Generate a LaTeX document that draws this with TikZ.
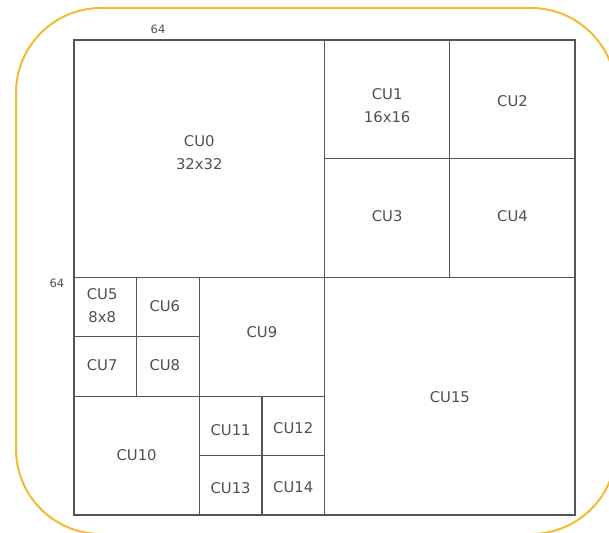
\documentclass[tikz,border=0pt]{standalone}
\usepackage{fontspec}
\setmainfont{DejaVu Sans}
\usepackage{tikz}
\usepackage{xcolor}
\definecolor{cuorange}{RGB}{246, 185, 51}
\definecolor{cugray}{RGB}{85, 85, 85}
\definecolor{cutext}{RGB}{80, 80, 80}
\tikzset{
    cuframe/.style={draw=cuorange, line width=2pt, rounded corners=85pt},
    cuedge/.style={draw=cugray, line width=1.2pt},
    culabel/.style={align=center, text=cutext, font=\fontsize{14.8}{23}\selectfont},
    dimlabel/.style={text=cutext, font=\fontsize{11.5}{13}\selectfont}
}
\begin{document}
\begin{tikzpicture}[x=1pt, y=-1pt]
    \useasboundingbox (0,0) rectangle (609,532);
    \clip (0,0) rectangle (609,532);
    \draw[cuframe] (16,8) rectangle (616,534);
    \node[dimlabel] (dimtop) at (158,29) {64};
    \node[dimlabel] (dimleft) at (57,283) {64};
    \begin{scope}[shift={(74,40)}, x=7.83pt, y=-7.42pt]
        % quad-tree split of the 64x64 block
        \draw[cuedge] (0,0) rectangle (32,32);
        \draw[cuedge] (32,0) rectangle (48,16);
        \draw[cuedge] (48,0) rectangle (64,16);
        \draw[cuedge] (32,16) rectangle (48,32);
        \draw[cuedge] (48,16) rectangle (64,32);
        \draw[cuedge] (0,32) rectangle (8,40);
        \draw[cuedge] (8,32) rectangle (16,40);
        \draw[cuedge] (0,40) rectangle (8,48);
        \draw[cuedge] (8,40) rectangle (16,48);
        \draw[cuedge] (16,32) rectangle (32,48);
        \draw[cuedge] (0,48) rectangle (16,64);
        \draw[cuedge] (16,48) rectangle (24,56);
        \draw[cuedge] (24,48) rectangle (32,56);
        \draw[cuedge] (16,56) rectangle (24,64);
        \draw[cuedge] (24,56) rectangle (32,64);
        \draw[cuedge] (32,32) rectangle (64,64);
        \draw[cuedge, line width=1.5pt] (0,0) rectangle (64,64);
        % labels
        \node[culabel] (cu0) at (16,15.2) {CU0\\32x32};
        \node[culabel] (cu1) at (40,8.8) {CU1\\16x16};
        \node[culabel] (cu2) at (56,8.2) {CU2};
        \node[culabel] (cu3) at (40,23.8) {CU3};
        \node[culabel] (cu4) at (56,23.8) {CU4};
        \node[culabel] (cu5) at (3.6,35.8) {CU5\\8x8};
        \node[culabel] (cu6) at (11.6,35.8) {CU6};
        \node[culabel] (cu7) at (3.6,43.8) {CU7};
        \node[culabel] (cu8) at (11.6,43.8) {CU8};
        \node[culabel] (cu9) at (24,39.4) {CU9};
        \node[culabel] (cu10) at (8,56) {CU10};
        \node[culabel] (cu11) at (20,52.6) {CU11};
        \node[culabel] (cu12) at (28,52.3) {CU12};
        \node[culabel] (cu13) at (20,60.4) {CU13};
        \node[culabel] (cu14) at (28,60.2) {CU14};
        \node[culabel] (cu15) at (48,48.1) {CU15};
    \end{scope}
\end{tikzpicture}
\end{document}
